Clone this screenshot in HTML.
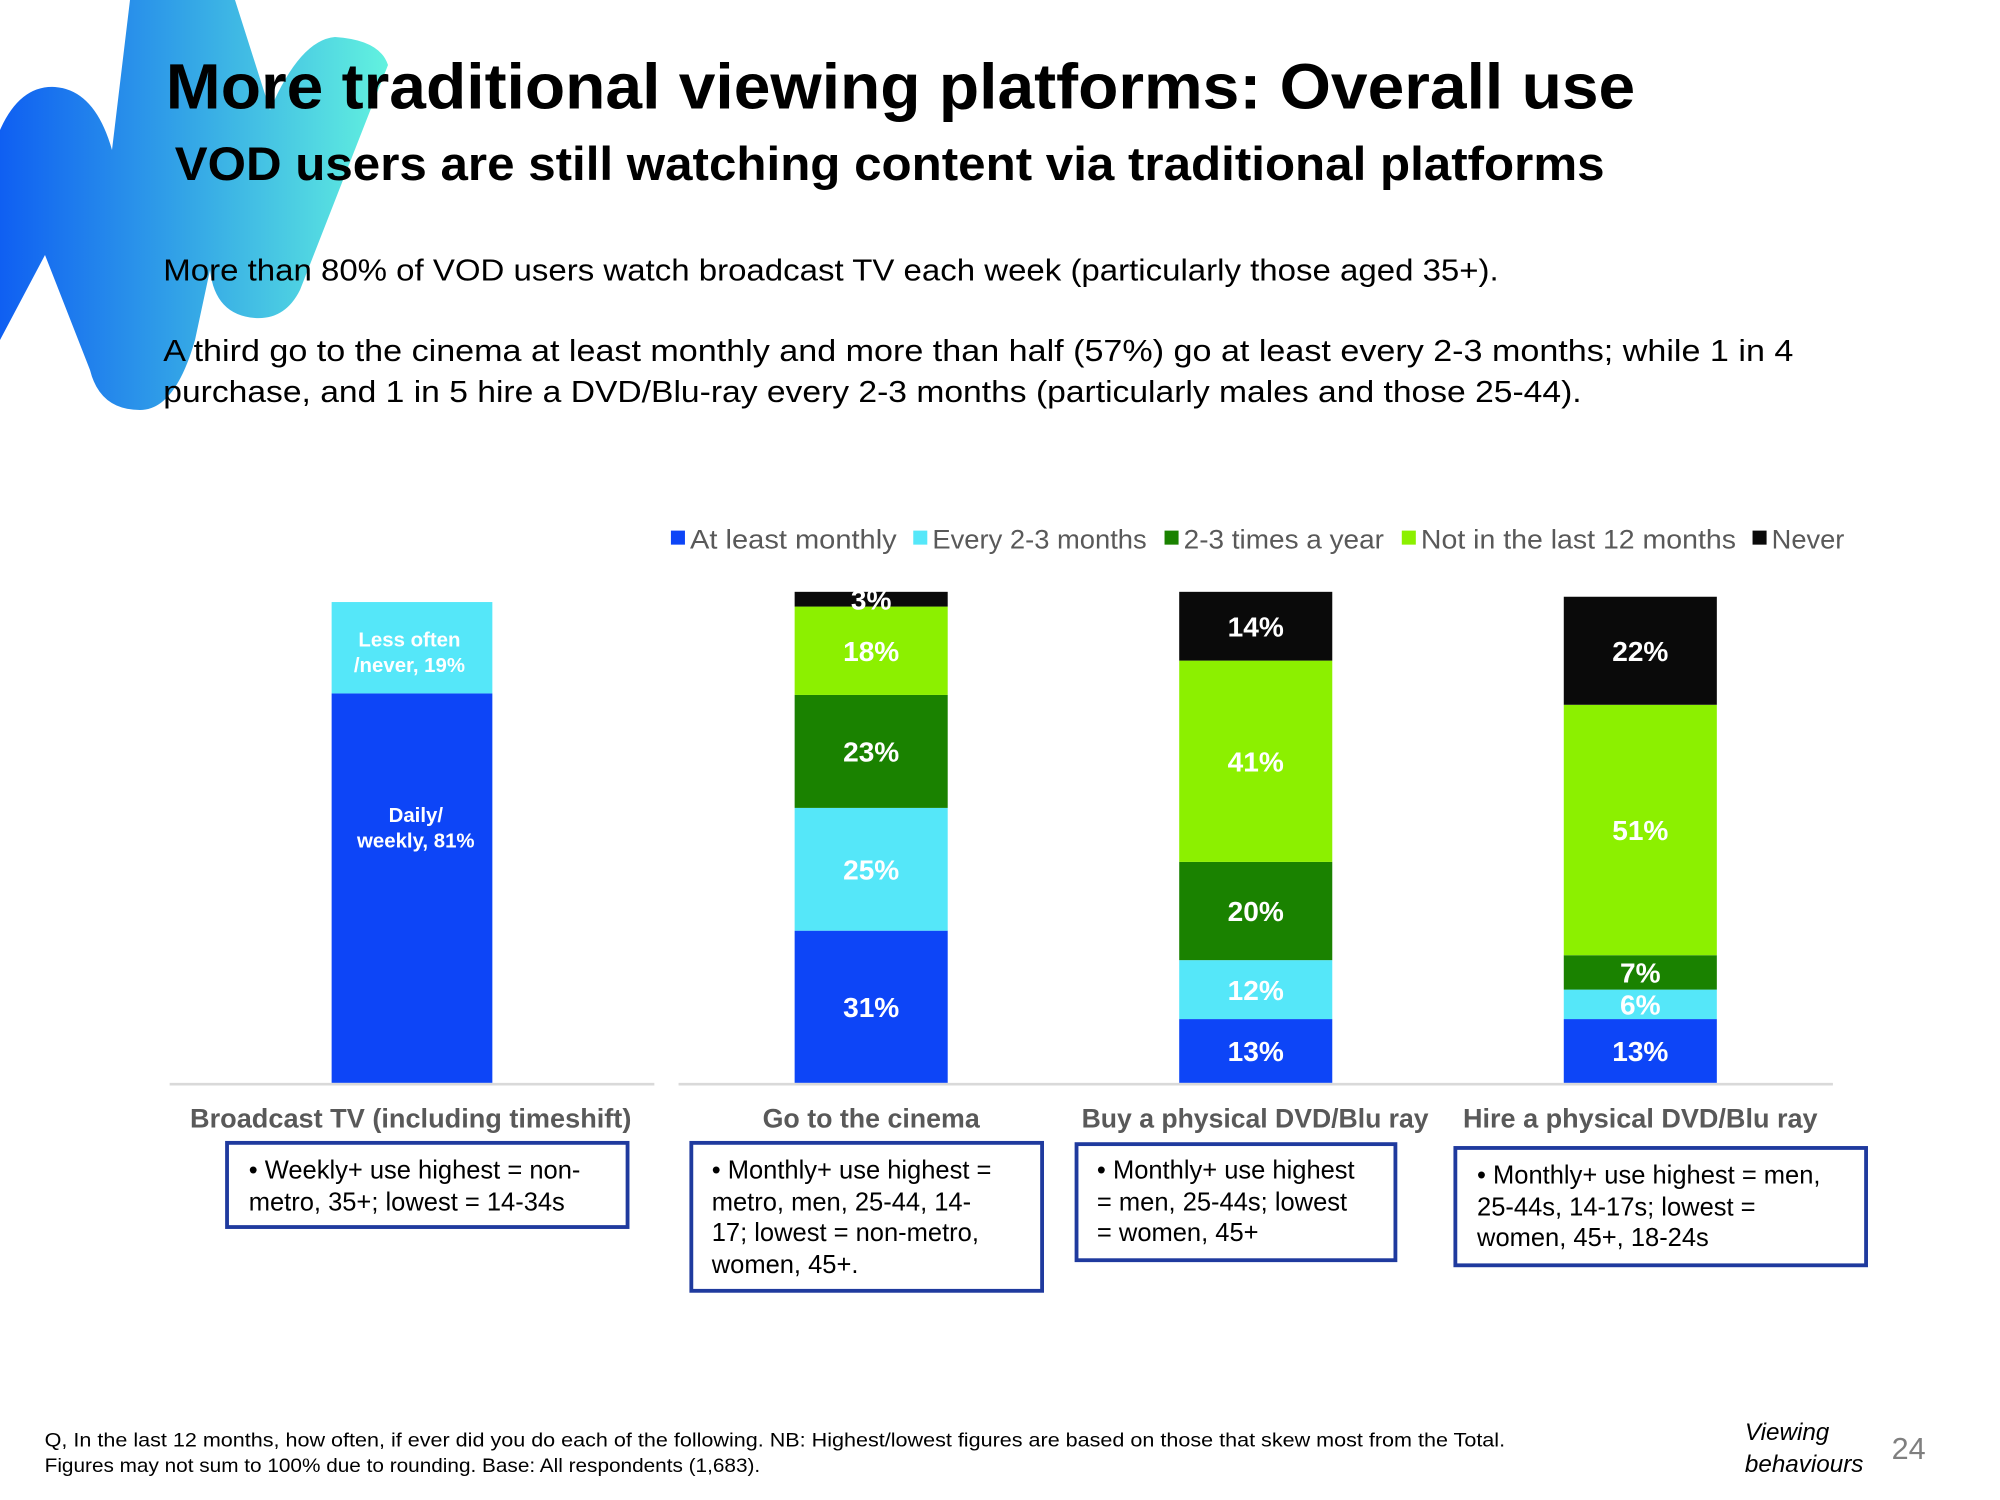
<!DOCTYPE html>
<html><head><meta charset="utf-8">
<style>
html,body{margin:0;padding:0;background:#fff;}
svg{display:block;font-family:"Liberation Sans","DejaVu Sans",sans-serif;}
</style></head>
<body>
<svg id="slide" width="2000" height="1500" viewBox="0 0 1568 1176" xmlns="http://www.w3.org/2000/svg">
<defs>
<linearGradient id="lg" x1="0" y1="0" x2="1" y2="0">
<stop offset="0" stop-color="#0f5ff2"/><stop offset="0.5" stop-color="#35a8e6"/><stop offset="1" stop-color="#62f2df"/>
</linearGradient>
</defs>
<g transform="scale(0.784)">
<path fill="url(#lg)" d="M 0 130 Q 20 85 55 87 Q 95 90 112 150 L 130 0 L 235 0 L 270 110 Q 300 40 335 37 Q 380 40 388 65 L 300 290 Q 285 320 255 318 Q 215 315 210 270 L 195 340 Q 175 410 140 410 Q 100 410 90 370 L 45 255 L 0 340 Z"/>
</g>
<text x="130" y="85" font-size="50" font-weight="bold" fill="#000" textLength="1152" lengthAdjust="spacingAndGlyphs">More traditional viewing platforms: Overall use</text>
<text x="137" y="141" font-size="37" font-weight="bold" fill="#000" textLength="1121" lengthAdjust="spacingAndGlyphs">VOD users are still watching content via traditional platforms</text>
<text x="128" y="220" font-size="24" fill="#000" textLength="1047" lengthAdjust="spacingAndGlyphs">More than 80% of VOD users watch broadcast TV each week (particularly those aged 35+).</text>
<text x="128" y="283" font-size="24" fill="#000" textLength="1278" lengthAdjust="spacingAndGlyphs">A third go to the cinema at least monthly and more than half (57%) go at least every 2-3 months; while 1 in 4</text>
<text x="128" y="315" font-size="24" fill="#000" textLength="1112" lengthAdjust="spacingAndGlyphs">purchase, and 1 in 5 hire a DVD/Blu-ray every 2-3 months (particularly males and those 25-44).</text>

<g id="legend"></g>
<g id="chart"></g>

<line x1="133" y1="850" x2="513" y2="850" stroke="#d9d9d9" stroke-width="2"/>
<line x1="532" y1="850" x2="1437" y2="850" stroke="#d9d9d9" stroke-width="2"/>

<g font-size="21" fill="#595959" font-weight="bold" text-anchor="middle">
<text x="322" y="884" textLength="346" lengthAdjust="spacingAndGlyphs">Broadcast TV (including timeshift)</text>
<text x="683" y="884">Go to the cinema</text>
<text x="984" y="884" textLength="272" lengthAdjust="spacingAndGlyphs">Buy a physical DVD/Blu ray</text>
<text x="1286" y="884" textLength="278" lengthAdjust="spacingAndGlyphs">Hire a physical DVD/Blu ray</text>
</g>

<g fill="none" stroke="#1f3a9e" stroke-width="3">
<rect x="178" y="896" width="314" height="66"/>
<rect x="542" y="896" width="275" height="116"/>
<rect x="844" y="897" width="250" height="91"/>
<rect x="1141" y="900" width="322" height="92"/>
</g>
<g font-size="20" fill="#000">
<text><tspan x="195" y="924">• Weekly+ use highest = non-</tspan><tspan x="195" y="949">metro, 35+; lowest = 14-34s</tspan></text>
<text><tspan x="558" y="924">• Monthly+ use highest =</tspan><tspan x="558" y="949">metro, men, 25-44, 14-</tspan><tspan x="558" y="973">17; lowest = non-metro,</tspan><tspan x="558" y="998">women, 45+.</tspan></text>
<text><tspan x="860" y="924">• Monthly+ use highest</tspan><tspan x="860" y="949">= men, 25-44s; lowest</tspan><tspan x="860" y="973">= women, 45+</tspan></text>
<text><tspan x="1158" y="928">• Monthly+ use highest = men,</tspan><tspan x="1158" y="953">25-44s, 14-17s; lowest =</tspan><tspan x="1158" y="977">women, 45+, 18-24s</tspan></text>
</g>

<g font-size="15" fill="#000">
<text x="35" y="1134" textLength="1145" lengthAdjust="spacingAndGlyphs">Q, In the last 12 months, how often, if ever did you do each of the following. NB: Highest/lowest figures are based on those that skew most from the Total.</text>
<text x="35" y="1154" textLength="561" lengthAdjust="spacingAndGlyphs">Figures may not sum to 100% due to rounding. Base: All respondents (1,683).</text>
</g>
<text font-size="19" font-style="italic" fill="#000"><tspan x="1368" y="1129">Viewing</tspan><tspan x="1368" y="1154">behaviours</tspan></text>
<text x="1483" y="1144" font-size="24" fill="#7f7f7f">24</text>
</svg>
<script>
const NS = "http://www.w3.org/2000/svg";
const seriesNames = ["At least monthly","Every 2-3 months","2-3 times a year","Not in the last 12 months","Never"];
const seriesColors = ["#0d45f7","#55e7f9","#1a8200","#8cf000","#0a0a0a"];
const categories = ["Go to the cinema","Buy a physical DVD/Blu ray","Hire a physical DVD/Blu ray"];
const atLeastMonthly = [31,13,13];
const every23Months = [25,12,6];
const times23Year = [23,20,7];
const notLast12 = [18,41,51];
const never = [3,14,22];
const broadcastCategories = ["Daily/ weekly","Less often /never"];
const broadcastValues = [81,19];

const svg = document.getElementById('slide');
const chart = document.getElementById('chart');
const baseY = 849;
const plotH = 385;
const y = v => v / 100 * plotH;
const barX = i => 623 + i * 301.5;
const barW = 120;

function mk(tag, attrs){ const e=document.createElementNS(NS,tag); for(const k in attrs) e.setAttribute(k,attrs[k]); return e; }

const bScale = v => v / 100 * 377;
let acc = 0;
const bColors = ["#0d45f7","#55e7f9"];
const labelShift = [-48, 3];
broadcastValues.forEach((v,j)=>{
  const h = bScale(v);
  const top = baseY - bScale(acc) - h;
  const r = mk('rect',{x:260,y:top,width:126,height:h,fill:bColors[j]});
  
  
  chart.appendChild(r);
  const words = broadcastCategories[j].split(' ');
  const t = mk('text',{x:323,'text-anchor':'middle','font-size':16,'font-weight':'bold',fill:'#fff'});
  
  
  const cy = top + h/2 + labelShift[j];
  const l1 = mk('tspan',{x:j===0?326:321,y:cy-4}); l1.textContent = words[0]+(j===1?' '+words[1]:'');
  const l2 = mk('tspan',{x:j===0?326:321,y:cy+16}); l2.textContent = (j===1?words[2]:words[1])+', '+v+'%';
  t.appendChild(l1); t.appendChild(l2);
  chart.appendChild(t);
  acc += v;
});

const series = [atLeastMonthly, every23Months, times23Year, notLast12, never];
categories.forEach((c,i)=>{
  let cum = 0;
  series.forEach((s,j)=>{
    const v = s[i];
    const h = y(v);
    const top = baseY - y(cum) - h;
    const r = mk('rect',{x:barX(i),y:top,width:barW,height:h,fill:seriesColors[j]});
    
    
    chart.appendChild(r);
    const t = mk('text',{x:barX(i)+barW/2,y:top+h/2+8,'text-anchor':'middle','font-size':22,'font-weight':'bold',fill:'#fff'});
    
    
    t.textContent = v+'%';
    chart.appendChild(t);
    cum += v;
  });
});

const legend = document.getElementById('legend');
const legX = [526,716,913,1099,1374];
const legW = [162,168,157,247,57];
seriesNames.forEach((n,j)=>{
  const g = mk('g',{});
  
  
  const sq = mk('rect',{x:legX[j],y:416,width:11,height:11,fill:seriesColors[j]});
  const t = mk('text',{x:legX[j]+15,y:430,'font-size':21,fill:'#595959',textLength:legW[j],lengthAdjust:'spacingAndGlyphs'});
  t.textContent = n;
  g.appendChild(sq); g.appendChild(t);
  legend.appendChild(g);
});
</script>
</body></html>
